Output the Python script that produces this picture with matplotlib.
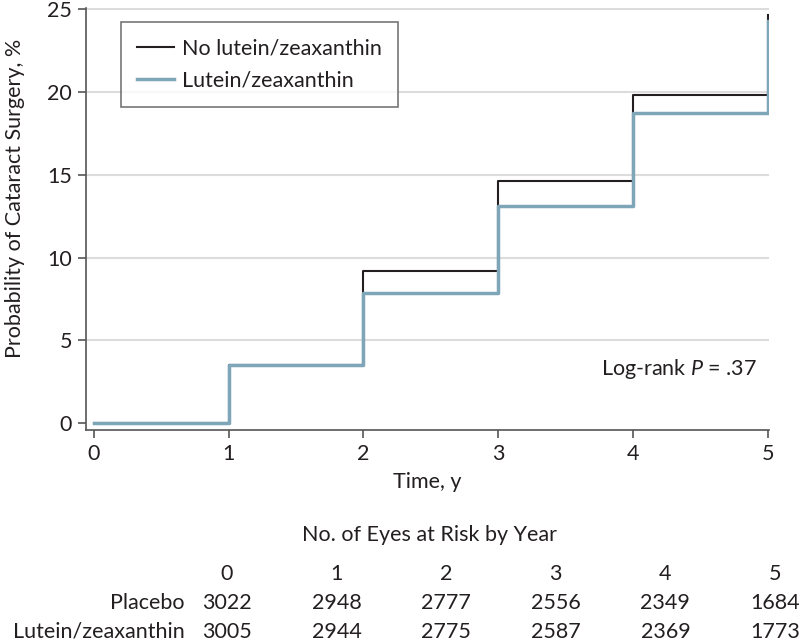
import matplotlib
matplotlib.use("Agg")
import matplotlib.pyplot as plt

plt.rcParams["font.family"] = ["Lato", "DejaVu Sans"]
plt.rcParams["mathtext.fontset"] = "custom"
plt.rcParams["mathtext.rm"] = "Lato"
plt.rcParams["mathtext.it"] = "Lato:italic"

# Kaplan-Meier style cumulative probability (%)
years = [0, 1, 2, 3, 4, 5]
no_lutein = [0.0, 3.52, 9.17, 14.62, 19.8, 24.6]
lutein = [0.0, 3.52, 7.88, 13.1, 18.73, 24.24]

# numbers at risk table
risk_years = ["0", "1", "2", "3", "4", "5"]
risk_groups = ["Placebo", "Lutein/zeaxanthin"]
risk_placebo = [3022, 2948, 2777, 2556, 2349, 1684]
risk_lutein = [3005, 2944, 2775, 2587, 2369, 1773]

yticks = [0, 5, 10, 15, 20, 25]

BLACK = "#231f20"
BLUE = "#7fa6b8"
GRID = "#dcdcdc"
SPINE = "#555555"
FS = 15.5

fig = plt.figure(figsize=(8, 6.42), dpi=100)
W, H = 800, 642
ax = fig.add_axes([86 / W, 1 - 430 / H, (769 - 86) / W, (430 - 8) / H])

for t in yticks[1:]:
    ax.axhline(t, color=GRID, lw=1.5, zorder=0)

ax.step(years, no_lutein, where="post", color=BLACK, lw=1.5,
        label="No lutein/zeaxanthin", zorder=2)
ax.step(years, lutein, where="post", color=BLUE, lw=2.5,
        label="Lutein/zeaxanthin", zorder=3)

ax.set_xlim(-0.059, 5.01)
ax.set_ylim(-0.40, 25.05)
ax.set_xticks(years)
ax.set_yticks(yticks)
ax.tick_params(axis="both", direction="out", length=6, width=1.2,
               color=SPINE, labelsize=FS, labelcolor=BLACK, pad=4)
for s in ["top", "right"]:
    ax.spines[s].set_visible(False)
for s in ["left", "bottom"]:
    ax.spines[s].set_color(SPINE)
    ax.spines[s].set_linewidth(1.2)

ax.set_xlabel("Time, y", fontsize=FS, color=BLACK, labelpad=6)
ax.set_ylabel("Probability of Cataract Surgery, %", fontsize=FS, color=BLACK)
ax.yaxis.set_label_coords(-0.09, 0.55)

ax.text(4.92, 3.28, "Log-rank $P$ = .37", fontsize=FS, color=BLACK,
        ha="right", va="center")

leg = ax.legend(loc="upper left", bbox_to_anchor=(0.0512, 0.967),
                borderaxespad=0, fontsize=FS, frameon=True, fancybox=False,
                handlelength=1.72, handletextpad=0.37, borderpad=0.75,
                labelspacing=0.6, labelcolor=BLACK)
leg.get_frame().set_edgecolor(SPINE)
leg.get_frame().set_linewidth(1.2)

# risk table below the axes
fig.text(430 / W, 1 - 535 / H, "No. of Eyes at Risk by Year", fontsize=FS,
         color=BLACK, ha="center", va="center")
col_x = [(227 + i * 109.6) / W for i in range(len(risk_years))]
for cx, lab in zip(col_x, risk_years):
    fig.text(cx, 1 - 574 / H, lab, fontsize=FS, color=BLACK,
             ha="center", va="center")
for row_y, name, vals in zip([603, 632], risk_groups, [risk_placebo, risk_lutein]):
    fig.text(185 / W, 1 - row_y / H, name, fontsize=FS, color=BLACK,
             ha="right", va="center")
    for cx, v in zip(col_x, vals):
        fig.text(cx, 1 - row_y / H, str(v), fontsize=FS, color=BLACK,
                 ha="center", va="center")

fig.savefig("out.png", dpi=100)
